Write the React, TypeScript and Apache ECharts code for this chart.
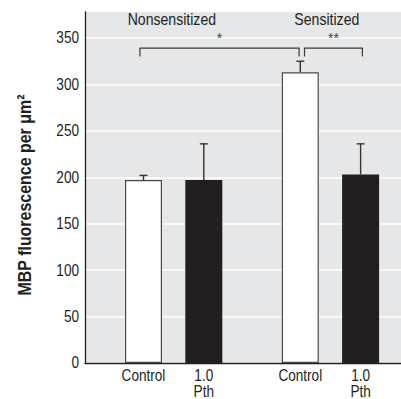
import React, { useEffect, useRef } from "react";
import * as echarts from "echarts";

// ---- data ----
const categories = ["Control", "1.0\nPth", "Control", "1.0\nPth"];
const xPositions = [1, 2, 3.6, 4.6];
const meanValues = [197, 197, 313, 203];
const upperValues = [202, 236, 325, 236];
const barFills = ["#ffffff", "#231f20", "#ffffff", "#231f20"];
const groupLabels = ["Nonsensitized", "Sensitized"];
const groupLabelX = [1.47, 4.04];
const groupLabelY = 370;
const brackets = [
  [0.94, 3.58],
  [3.67, 4.63],
];
const bracketTop = 339;
const bracketTickEnd = 330;
const bracketMarks = ["*", "**"];
const yTicks = [0, 50, 100, 150, 200, 250, 300, 350];
const yMax = 378;
const xMin = 0.03;
const xMax = 5.27;
const yName = "MBP fluorescence per \u03bcm\u00b2";

const FONT = "'Liberation Sans', Arial, sans-serif";
const INK = "#231f20";
const NARROW = 0.85;

export default function App() {
  const ref = useRef<HTMLDivElement>(null);
  useEffect(() => {
    if (!ref.current) return;
    const chart = echarts.init(ref.current, undefined, { renderer: "svg" });
    const option: any = {
      animation: false,
      grid: {
        left: 85,
        right: 0,
        top: 12,
        bottom: 36,
        show: true,
        backgroundColor: "#e6e7e8",
        borderWidth: 0,
      },
      xAxis: {
        type: "value",
        min: xMin,
        max: xMax,
        axisLine: { show: true, onZero: false, lineStyle: { color: INK, width: 1.3 } },
        axisTick: { show: false },
        axisLabel: { show: false },
        splitLine: { show: false },
      },
      yAxis: {
        type: "value",
        min: 0,
        max: yMax,
        interval: 50,
        axisLine: { show: true, lineStyle: { color: INK, width: 1.3 } },
        axisTick: { show: false },
        axisLabel: { show: false },
        splitLine: { show: true, showMaxLine: false, lineStyle: { color: "#ffffff", width: 1.5 } },
      },
      graphic: [
        {
          type: "text",
          x: 25,
          y: 195,
          rotation: Math.PI / 2,
          scaleX: 0.84,
          style: {
            text: yName,
            fontFamily: FONT,
            fontWeight: "bold",
            fontSize: 19,
            fill: INK,
            align: "center",
            verticalAlign: "middle",
          },
        },
      ],
      series: [
        {
          type: "bar",
          barWidth: 37,
          data: xPositions.map((x, i) => ({
            value: [x, meanValues[i]],
            itemStyle: {
              color: barFills[i],
              borderColor: barFills[i] === "#ffffff" ? "#4a4a4a" : barFills[i],
              borderWidth: barFills[i] === "#ffffff" ? 1.2 : 0,
            },
          })),
          z: 2,
        },
        {
          type: "custom",
          z: 3,
          data: xPositions.map((x, i) => [x, meanValues[i], upperValues[i]]),
          renderItem: (params: any, api: any) => {
            const x = api.value(0);
            const p0 = api.coord([x, api.value(1)]);
            const p1 = api.coord([x, api.value(2)]);
            const st = { stroke: "#333333", lineWidth: 1.4 };
            return {
              type: "group",
              children: [
                { type: "line", shape: { x1: p0[0], y1: p0[1], x2: p1[0], y2: p1[1] }, style: st },
                { type: "line", shape: { x1: p1[0] - 4, y1: p1[1], x2: p1[0] + 4, y2: p1[1] }, style: st },
              ],
            };
          },
        },
        {
          type: "custom",
          z: 3,
          data: brackets.map((b) => [b[0], b[1], bracketTop, bracketTickEnd]),
          renderItem: (params: any, api: any) => {
            const a = api.coord([api.value(0), api.value(2)]);
            const b = api.coord([api.value(1), api.value(2)]);
            const aEnd = api.coord([api.value(0), api.value(3)]);
            const st = { stroke: "#3a3a3a", lineWidth: 1.2, fill: "none" };
            return {
              type: "group",
              children: [
                {
                  type: "polyline",
                  shape: {
                    points: [
                      [a[0], aEnd[1]],
                      [a[0], a[1]],
                      [b[0], b[1]],
                      [b[0], aEnd[1]],
                    ],
                  },
                  style: st,
                },
                {
                  type: "text",
                  x: (a[0] + b[0]) / 2,
                  y: a[1] - 10,
                  style: {
                    text: bracketMarks[params.dataIndex],
                    fontFamily: FONT,
                    fontSize: 14,
                    fill: "#444444",
                    align: "center",
                    verticalAlign: "middle",
                  },
                },
              ],
            };
          },
        },
        {
          type: "custom",
          z: 3,
          data: groupLabelX.map((x) => [x, groupLabelY]),
          renderItem: (params: any, api: any) => {
            const p = api.coord([api.value(0), api.value(1)]);
            return {
              type: "text",
              x: p[0],
              y: p[1],
              scaleX: 0.88,
              style: {
                text: groupLabels[params.dataIndex],
                fontFamily: FONT,
                fontSize: 16,
                fill: INK,
                align: "center",
                verticalAlign: "middle",
              },
            };
          },
        },
        {
          type: "custom",
          z: 3,
          data: xPositions.map((x) => [x, 0]),
          renderItem: (params: any, api: any) => {
            const p = api.coord([api.value(0), api.value(1)]);
            return {
              type: "text",
              x: p[0],
              y: p[1] + 4,
              scaleX: NARROW,
              style: {
                text: categories[params.dataIndex],
                fontFamily: FONT,
                fontSize: 16,
                lineHeight: 16.5,
                fill: INK,
                align: "center",
                verticalAlign: "top",
              },
            };
          },
        },
        {
          type: "custom",
          z: 3,
          data: yTicks.map((v) => [xMin, v]),
          renderItem: (params: any, api: any) => {
            const p = api.coord([api.value(0), api.value(1)]);
            return {
              type: "text",
              x: p[0] - 6,
              y: p[1],
              scaleX: NARROW,
              style: {
                text: String(yTicks[params.dataIndex]),
                fontFamily: FONT,
                fontSize: 16,
                fill: INK,
                align: "right",
                verticalAlign: "middle",
              },
            };
          },
        },
      ],
    };
    chart.setOption(option);
    return () => chart.dispose();
  }, []);
  return (
    <div
      ref={ref}
      style={{ position: "fixed", left: 0, top: 0, width: 401, height: 399, background: "#ffffff" }}
    />
  );
}
